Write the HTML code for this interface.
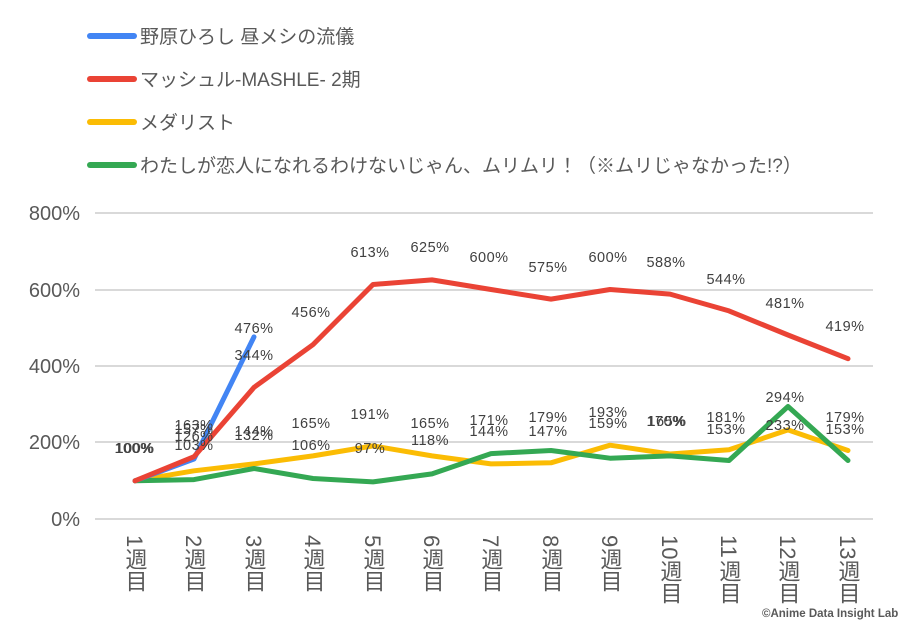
<!DOCTYPE html>
<html><head><meta charset="utf-8"><style>
body{margin:0;background:#fff;}
svg{display:block;font-family:"Liberation Sans","Noto Sans CJK JP",sans-serif;}
.lg{font-size:19px;fill:#595959;}
.yl{font-size:20px;fill:#595959;text-anchor:end;}
.dl{font-size:14.5px;fill:#404040;text-anchor:middle;dominant-baseline:middle;letter-spacing:0.5px;}
.xl{font-size:22px;fill:#595959;writing-mode:vertical-rl;}
.xd{font-size:22px;fill:#595959;}
</style></head><body>
<svg width="900" height="622" viewBox="0 0 900 622">
<rect width="900" height="622" fill="#fff"/>
<g stroke-linecap="round" stroke-width="6">
<line x1="90" y1="36" x2="134" y2="36" stroke="#4285f4"/>
<line x1="90" y1="79" x2="134" y2="79" stroke="#ea4335"/>
<line x1="90" y1="122" x2="134" y2="122" stroke="#fbbc04"/>
<line x1="90" y1="165" x2="134" y2="165" stroke="#34a853"/>
</g>
<text class="lg" x="140" y="43">野原ひろし 昼メシの流儀</text>
<text class="lg" x="140" y="86">マッシュル-MASHLE- 2期</text>
<text class="lg" x="140" y="129">メダリスト</text>
<text class="lg" x="140" y="172">わたしが恋人になれるわけないじゃん、ムリムリ！（※ムリじゃなかった!?）</text>
<g stroke="#d9d9d9" stroke-width="2">
<line x1="95" y1="213" x2="873" y2="213"/>
<line x1="95" y1="290" x2="873" y2="290"/>
<line x1="95" y1="366" x2="873" y2="366"/>
<line x1="95" y1="442" x2="873" y2="442"/>
<line x1="95" y1="519" x2="873" y2="519"/>
</g>
<text class="yl" x="80" y="220">800%</text>
<text class="yl" x="80" y="297">600%</text>
<text class="yl" x="80" y="373">400%</text>
<text class="yl" x="80" y="449">200%</text>
<text class="yl" x="80" y="526">0%</text>
<g fill="none" stroke-width="5" stroke-linejoin="round" stroke-linecap="round">
<polyline stroke="#fbbc04" points="135,480.8 194,470.8 254,463.9 313,455.9 373,445.9 432,455.9 491,463.9 551,462.8 610,445.2 670,454 729,449.8 788,429.9 848,450.5"/>
<polyline stroke="#34a853" points="135,480.8 194,479.6 254,468.5 313,478.5 373,481.9 432,473.9 491,453.6 551,450.5 610,458.2 670,455.9 729,460.5 788,406.5 848,460.5"/>
<polyline stroke="#4285f4" points="135,480.8 194,459 254,336.9"/>
<polyline stroke="#ea4335" points="135,480.8 194,456.7 254,387.4 313,344.6 373,284.5 432,279.9 491,289.5 551,299.1 610,289.5 670,294.1 729,310.9 788,335 848,358.7"/>
</g>
<g class="dl">
<text x="134" y="449">100%</text><text x="135" y="449">100%</text>
<text x="194" y="426">163%</text><text x="194" y="430">157%</text><text x="194" y="437">126%</text><text x="194" y="446">103%</text>
<text x="254" y="329">476%</text><text x="254" y="356">344%</text><text x="254" y="432">144%</text><text x="254" y="436">132%</text>
<text x="311" y="313">456%</text><text x="311" y="424">165%</text><text x="311" y="446">106%</text>
<text x="370" y="253">613%</text><text x="370" y="415">191%</text><text x="370" y="449">97%</text>
<text x="430" y="248">625%</text><text x="430" y="424">165%</text><text x="430" y="441">118%</text>
<text x="489" y="258">600%</text><text x="489" y="421">171%</text><text x="489" y="432">144%</text>
<text x="548" y="268">575%</text><text x="548" y="418">179%</text><text x="548" y="432">147%</text>
<text x="608" y="258">600%</text><text x="608" y="413">193%</text><text x="608" y="424">159%</text>
<text x="666" y="263">588%</text><text x="666" y="422">170%</text><text x="667" y="422">165%</text>
<text x="726" y="280">544%</text><text x="726" y="418">181%</text><text x="726" y="430">153%</text>
<text x="785" y="304">481%</text><text x="785" y="398">294%</text><text x="785" y="426">233%</text>
<text x="845" y="327">419%</text><text x="845" y="418">179%</text><text x="845" y="430">153%</text>
</g>
<g class="xd">
<text transform="translate(127,535) rotate(90)">1</text>
<text transform="translate(186,535) rotate(90)">2</text>
<text transform="translate(246,535) rotate(90)">3</text>
<text transform="translate(305,535) rotate(90)">4</text>
<text transform="translate(365,535) rotate(90)">5</text>
<text transform="translate(424,535) rotate(90)">6</text>
<text transform="translate(483,535) rotate(90)">7</text>
<text transform="translate(543,535) rotate(90)">8</text>
<text transform="translate(602,535) rotate(90)">9</text>
<text transform="translate(662,535) rotate(90)">10</text>
<text transform="translate(721,535) rotate(90)">11</text>
<text transform="translate(780,535) rotate(90)">12</text>
<text transform="translate(840,535) rotate(90)">13</text>
</g>
<g class="xl">
<text x="135" y="548">週目</text>
<text x="194" y="548">週目</text>
<text x="254" y="548">週目</text>
<text x="313" y="548">週目</text>
<text x="373" y="548">週目</text>
<text x="432" y="548">週目</text>
<text x="491" y="548">週目</text>
<text x="551" y="548">週目</text>
<text x="610" y="548">週目</text>
<text x="670" y="560">週目</text>
<text x="729" y="560">週目</text>
<text x="788" y="560">週目</text>
<text x="848" y="560">週目</text>
</g>
<text x="762" y="617" font-size="11.5" fill="#595959" font-weight="bold">©Anime Data Insight Lab</text>
</svg>
</body></html>
